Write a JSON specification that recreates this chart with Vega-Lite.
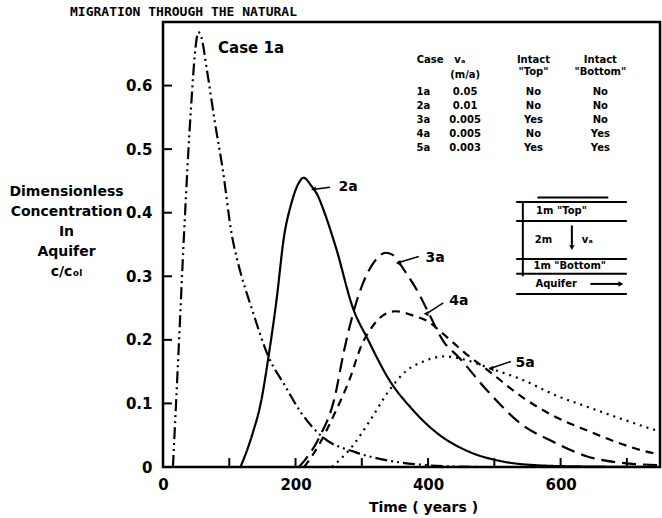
{
  "$schema": "https://vega.github.io/schema/vega-lite/v6.json",
  "width": 497,
  "height": 445,
  "autosize": {"type": "none"},
  "padding": {"left": 163, "top": 22, "right": 2, "bottom": 51},
  "title": {"text": "MIGRATION THROUGH THE NATURAL", "anchor": "start", "frame": "group", "dx": -93, "dy": 14, "offset": 4, "baseline": "bottom", "font": "DejaVu Sans Mono", "fontSize": 13, "fontWeight": "bold", "color": "black"},
  "config": {
    "font": "DejaVu Sans",
    "view": {"stroke": "black", "strokeWidth": 2.5},
    "text": {"font": "DejaVu Sans", "fontWeight": "bold", "color": "black"}
  },
  "datasets": {
    "curves": [
      {"case": "1a", "t": 15, "c": 0}, {"case": "1a", "t": 23.5, "c": 0.183}, {"case": "1a", "t": 32, "c": 0.372}, {"case": "1a", "t": 42, "c": 0.561}, {"case": "1a", "t": 50, "c": 0.668}, {"case": "1a", "t": 53, "c": 0.684}, {"case": "1a", "t": 57, "c": 0.679}, {"case": "1a", "t": 66.5, "c": 0.623}, {"case": "1a", "t": 78, "c": 0.544}, {"case": "1a", "t": 90, "c": 0.469}, {"case": "1a", "t": 104, "c": 0.364}, {"case": "1a", "t": 113, "c": 0.322}, {"case": "1a", "t": 135, "c": 0.246}, {"case": "1a", "t": 159, "c": 0.174}, {"case": "1a", "t": 184, "c": 0.128}, {"case": "1a", "t": 208, "c": 0.086}, {"case": "1a", "t": 241, "c": 0.047}, {"case": "1a", "t": 291, "c": 0.023}, {"case": "1a", "t": 341, "c": 0.01}, {"case": "1a", "t": 385, "c": 0.004}, {"case": "1a", "t": 430, "c": 0.001}, {"case": "1a", "t": 480, "c": 0},
      {"case": "2a", "t": 117, "c": 0}, {"case": "2a", "t": 135, "c": 0.052}, {"case": "2a", "t": 148, "c": 0.103}, {"case": "2a", "t": 159, "c": 0.172}, {"case": "2a", "t": 171, "c": 0.26}, {"case": "2a", "t": 183, "c": 0.365}, {"case": "2a", "t": 193, "c": 0.412}, {"case": "2a", "t": 205, "c": 0.447}, {"case": "2a", "t": 212, "c": 0.455}, {"case": "2a", "t": 224, "c": 0.442}, {"case": "2a", "t": 234, "c": 0.426}, {"case": "2a", "t": 242, "c": 0.405}, {"case": "2a", "t": 261, "c": 0.345}, {"case": "2a", "t": 287, "c": 0.249}, {"case": "2a", "t": 309, "c": 0.201}, {"case": "2a", "t": 342, "c": 0.136}, {"case": "2a", "t": 375, "c": 0.092}, {"case": "2a", "t": 414, "c": 0.053}, {"case": "2a", "t": 462, "c": 0.024}, {"case": "2a", "t": 511, "c": 0.009}, {"case": "2a", "t": 560, "c": 0.003}, {"case": "2a", "t": 620, "c": 0.001}, {"case": "2a", "t": 750, "c": 0},
      {"case": "3a", "t": 205, "c": 0}, {"case": "3a", "t": 215, "c": 0.012}, {"case": "3a", "t": 236, "c": 0.047}, {"case": "3a", "t": 259, "c": 0.109}, {"case": "3a", "t": 273, "c": 0.182}, {"case": "3a", "t": 292, "c": 0.26}, {"case": "3a", "t": 309, "c": 0.306}, {"case": "3a", "t": 322, "c": 0.327}, {"case": "3a", "t": 336, "c": 0.337}, {"case": "3a", "t": 346, "c": 0.334}, {"case": "3a", "t": 365, "c": 0.308}, {"case": "3a", "t": 387, "c": 0.271}, {"case": "3a", "t": 400, "c": 0.244}, {"case": "3a", "t": 425, "c": 0.195}, {"case": "3a", "t": 444, "c": 0.175}, {"case": "3a", "t": 492, "c": 0.117}, {"case": "3a", "t": 540, "c": 0.068}, {"case": "3a", "t": 588, "c": 0.04}, {"case": "3a", "t": 639, "c": 0.017}, {"case": "3a", "t": 688, "c": 0.007}, {"case": "3a", "t": 750, "c": 0.003},
      {"case": "4a", "t": 213, "c": 0}, {"case": "4a", "t": 236, "c": 0.036}, {"case": "4a", "t": 258, "c": 0.082}, {"case": "4a", "t": 282, "c": 0.139}, {"case": "4a", "t": 299, "c": 0.19}, {"case": "4a", "t": 316, "c": 0.221}, {"case": "4a", "t": 336, "c": 0.241}, {"case": "4a", "t": 351, "c": 0.245}, {"case": "4a", "t": 378, "c": 0.238}, {"case": "4a", "t": 400, "c": 0.229}, {"case": "4a", "t": 421, "c": 0.211}, {"case": "4a", "t": 455, "c": 0.18}, {"case": "4a", "t": 494, "c": 0.149}, {"case": "4a", "t": 542, "c": 0.11}, {"case": "4a", "t": 590, "c": 0.08}, {"case": "4a", "t": 641, "c": 0.057}, {"case": "4a", "t": 690, "c": 0.037}, {"case": "4a", "t": 739, "c": 0.022}, {"case": "4a", "t": 750, "c": 0.02},
      {"case": "5a", "t": 255, "c": 0}, {"case": "5a", "t": 286, "c": 0.033}, {"case": "5a", "t": 313, "c": 0.074}, {"case": "5a", "t": 341, "c": 0.12}, {"case": "5a", "t": 367, "c": 0.151}, {"case": "5a", "t": 393, "c": 0.166}, {"case": "5a", "t": 425, "c": 0.174}, {"case": "5a", "t": 458, "c": 0.168}, {"case": "5a", "t": 494, "c": 0.155}, {"case": "5a", "t": 543, "c": 0.137}, {"case": "5a", "t": 592, "c": 0.113}, {"case": "5a", "t": 642, "c": 0.094}, {"case": "5a", "t": 691, "c": 0.076}, {"case": "5a", "t": 740, "c": 0.059}, {"case": "5a", "t": 750, "c": 0.056}
    ],
    "ticks": [
      {"t": 100, "c": 0, "t2": 100, "c2": 0.014}, {"t": 200, "c": 0, "t2": 200, "c2": 0.014}, {"t": 300, "c": 0, "t2": 300, "c2": 0.014}, {"t": 400, "c": 0, "t2": 400, "c2": 0.014}, {"t": 500, "c": 0, "t2": 500, "c2": 0.014}, {"t": 600, "c": 0, "t2": 600, "c2": 0.014}, {"t": 700, "c": 0, "t2": 700, "c2": 0.014},
      {"t": 0, "c": 0.1, "t2": 13.5, "c2": 0.1}, {"t": 0, "c": 0.2, "t2": 13.5, "c2": 0.2}, {"t": 0, "c": 0.3, "t2": 13.5, "c2": 0.3}, {"t": 0, "c": 0.4, "t2": 13.5, "c2": 0.4}, {"t": 0, "c": 0.5, "t2": 13.5, "c2": 0.5}, {"t": 0, "c": 0.6, "t2": 13.5, "c2": 0.6}
    ],
    "arrows": [
      {"t": 252, "c": 0.44, "t2": 229, "c2": 0.437},
      {"t": 386, "c": 0.331, "t2": 357, "c2": 0.322},
      {"t": 423, "c": 0.258, "t2": 399, "c2": 0.242},
      {"t": 525, "c": 0.166, "t2": 497, "c2": 0.156}
    ],
    "heads": [
      {"t": 227, "c": 0.437}, {"t": 355, "c": 0.321}, {"t": 397, "c": 0.241}, {"t": 495, "c": 0.155}
    ],
    "schem": [
      {"t": 565, "c": 0.424, "t2": 672, "c2": 0.424},
      {"t": 533, "c": 0.417, "t2": 700, "c2": 0.417},
      {"t": 533, "c": 0.387, "t2": 700, "c2": 0.387},
      {"t": 533, "c": 0.327, "t2": 700, "c2": 0.327},
      {"t": 533, "c": 0.304, "t2": 700, "c2": 0.304},
      {"t": 533, "c": 0.272, "t2": 700, "c2": 0.272},
      {"t": 543, "c": 0.417, "t2": 543, "c2": 0.3},
      {"t": 617, "c": 0.38, "t2": 617, "c2": 0.348},
      {"t": 645, "c": 0.288, "t2": 688, "c2": 0.288}
    ],
    "headDown": [{"t": 617, "c": 0.345}],
    "headRight": [{"t": 691, "c": 0.288}],
    "curveLabels": [
      {"label": "2a", "t": 265, "c": 0.44},
      {"label": "3a", "t": 396, "c": 0.329},
      {"label": "4a", "t": 432, "c": 0.261},
      {"label": "5a", "t": 532, "c": 0.163}
    ],
    "caseTitle": [{"label": "Case 1a", "t": 83, "c": 0.659}],
    "table": [
      {"label": "Case", "t": 403, "c": 0.641}, {"label": "vₐ", "t": 448, "c": 0.641}, {"label": "(m/a)", "t": 456, "c": 0.616}, {"label": "Intact", "t": 559, "c": 0.641}, {"label": "\"Top\"", "t": 559, "c": 0.621}, {"label": "Intact", "t": 660, "c": 0.641}, {"label": "\"Bottom\"", "t": 660, "c": 0.621},
      {"label": "1a", "t": 393, "c": 0.59}, {"label": "0.05", "t": 456, "c": 0.59}, {"label": "No", "t": 559, "c": 0.59}, {"label": "No", "t": 660, "c": 0.59},
      {"label": "2a", "t": 393, "c": 0.568}, {"label": "0.01", "t": 456, "c": 0.568}, {"label": "No", "t": 559, "c": 0.568}, {"label": "No", "t": 660, "c": 0.568},
      {"label": "3a", "t": 393, "c": 0.546}, {"label": "0.005", "t": 456, "c": 0.546}, {"label": "Yes", "t": 559, "c": 0.546}, {"label": "No", "t": 660, "c": 0.546},
      {"label": "4a", "t": 393, "c": 0.524}, {"label": "0.005", "t": 456, "c": 0.524}, {"label": "No", "t": 559, "c": 0.524}, {"label": "Yes", "t": 660, "c": 0.524},
      {"label": "5a", "t": 393, "c": 0.502}, {"label": "0.003", "t": 456, "c": 0.502}, {"label": "Yes", "t": 559, "c": 0.502}, {"label": "Yes", "t": 660, "c": 0.502}
    ],
    "schemText": [
      {"label": "1m  \"Top\"", "t": 563, "c": 0.402},
      {"label": "2m", "t": 561, "c": 0.357},
      {"label": "vₐ", "t": 632, "c": 0.357},
      {"label": "1m  \"Bottom\"", "t": 559, "c": 0.316},
      {"label": "Aquifer", "t": 562, "c": 0.288}
    ]
  },
  "encoding": {
    "x": {
      "field": "t", "type": "quantitative",
      "scale": {"domain": [0, 750], "nice": false, "zero": false},
      "axis": {
        "values": [0, 200, 400, 600],
        "domain": false, "grid": false, "ticks": false,
        "labelPadding": 10, "labelFontSize": 15, "labelFontWeight": "bold", "labelColor": "black", "labelFlush": false, "labelOverlap": false,
        "title": "Time  ( years )", "titleFontSize": 14, "titleFontWeight": "bold", "titleColor": "black",
        "titleX": 260, "titleY": 40, "titleAlign": "center", "titleBaseline": "middle", "titleAnchor": "start"
      }
    },
    "y": {
      "field": "c", "type": "quantitative",
      "scale": {"domain": [0, 0.7], "nice": false, "zero": false},
      "axis": {
        "values": [0, 0.1, 0.2, 0.3, 0.4, 0.5, 0.6],
        "labelExpr": "datum.value == 0 ? '0' : format(datum.value, '.1f')",
        "domain": false, "grid": false, "ticks": false,
        "labelPadding": 11, "labelFontSize": 15, "labelFontWeight": "bold", "labelColor": "black", "labelFlush": false, "labelOverlap": false,
        "title": ["Dimensionless", "Concentration", "In", "Aquifer", "c/cₒₗ"],
        "titleAngle": 0, "titleFontSize": 14, "titleFontWeight": "bold", "titleColor": "black",
        "titleX": -97, "titleY": 173, "titleAlign": "center", "titleBaseline": "alphabetic", "titleLineHeight": 20, "titleAnchor": "start"
      }
    }
  },
  "layer": [
    {
      "data": {"name": "curves"},
      "mark": {"type": "line", "color": "black", "strokeWidth": 2.2, "interpolate": "monotone"},
      "encoding": {
        "strokeDash": {"field": "case", "type": "nominal", "scale": {"domain": ["1a", "2a", "3a", "4a", "5a"], "range": [[12, 4, 2, 4, 2, 4], [1, 0], [14, 7], [8, 6], [2, 5]]}, "legend": null}
      }
    },
    {
      "data": {"name": "ticks"},
      "mark": {"type": "rule", "color": "black", "strokeWidth": 2},
      "encoding": {"x2": {"field": "t2"}, "y2": {"field": "c2"}}
    },
    {
      "data": {"name": "arrows"},
      "mark": {"type": "rule", "color": "black", "strokeWidth": 1.5},
      "encoding": {"x2": {"field": "t2"}, "y2": {"field": "c2"}}
    },
    {
      "data": {"name": "heads"},
      "mark": {"type": "point", "shape": "triangle-left", "filled": true, "color": "black", "size": 30, "opacity": 1}
    },
    {
      "data": {"name": "schem"},
      "mark": {"type": "rule", "color": "black", "strokeWidth": 2},
      "encoding": {"x2": {"field": "t2"}, "y2": {"field": "c2"}}
    },
    {
      "data": {"name": "headDown"},
      "mark": {"type": "point", "shape": "triangle-down", "filled": true, "color": "black", "size": 30, "opacity": 1}
    },
    {
      "data": {"name": "headRight"},
      "mark": {"type": "point", "shape": "triangle-right", "filled": true, "color": "black", "size": 30, "opacity": 1}
    },
    {
      "data": {"name": "curveLabels"},
      "mark": {"type": "text", "align": "left", "baseline": "middle", "fontSize": 14},
      "encoding": {"text": {"field": "label"}}
    },
    {
      "data": {"name": "caseTitle"},
      "mark": {"type": "text", "align": "left", "baseline": "middle", "fontSize": 15},
      "encoding": {"text": {"field": "label"}}
    },
    {
      "data": {"name": "table"},
      "mark": {"type": "text", "align": "center", "baseline": "middle", "fontSize": 10},
      "encoding": {"text": {"field": "label"}}
    },
    {
      "data": {"name": "schemText"},
      "mark": {"type": "text", "align": "left", "baseline": "middle", "fontSize": 10},
      "encoding": {"text": {"field": "label"}}
    }
  ]
}
